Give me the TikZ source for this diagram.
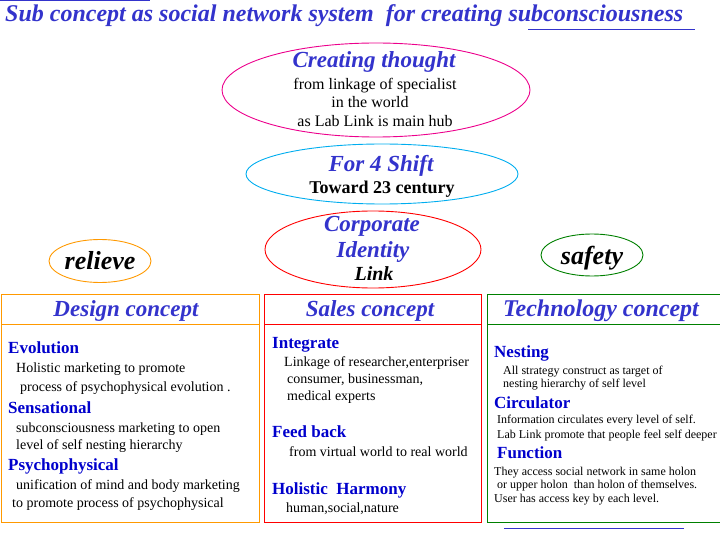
\documentclass[tikz,border=0pt]{standalone}
\usepackage{fontspec}
\setmainfont{Liberation Serif}
\usetikzlibrary{shapes.geometric}
\definecolor{titleblue}{RGB}{51,51,204}
\definecolor{headblue}{RGB}{0,0,204}
\definecolor{boxorange}{RGB}{255,153,0}
\definecolor{boxgreen}{RGB}{0,128,0}
\newcommand{\bigbi}{\fontsize{23}{26}\selectfont\bfseries\itshape}
\newcommand{\subhd}{\fontsize{17}{19}\selectfont\bfseries}
\tikzset{
	oval/.style={ellipse,draw,line width=0.9pt,inner sep=0pt},
	cbox/.style={rectangle,draw,line width=1.2pt,inner sep=0pt,anchor=north west},
	hd/.style={anchor=base,inner sep=0pt,text=titleblue,font=\bigbi},
	sub/.style={anchor=base west,inner sep=0pt,text=headblue,font=\subhd},
	ovtx/.style={anchor=base,inner sep=0pt,font=\fontsize{16}{18}\selectfont},
	ln/.style={anchor=base west,inner sep=0pt,font=\fontsize{14}{16}\selectfont},
	sm/.style={anchor=base west,inner sep=0pt,font=\fontsize{12}{14}\selectfont}
}
\begin{document}
\begin{tikzpicture}[x=1pt,y=-1pt]
			\useasboundingbox (0,0) rectangle (720,540);
			% title
			\node[anchor=base west,inner sep=0pt,text=titleblue,font=\fontsize{24}{28}\selectfont\bfseries\itshape]
				(title) at (5,22) {Sub concept as social network system\ \ for creating subconsciousness};
			\coordinate (tl1) at (0,1);
			\coordinate (tl2) at (150,1);
			\coordinate (ul1) at (528,30);
			\coordinate (ul2) at (695,30);
			\draw[titleblue,line width=1pt] (tl1) -- (tl2) (ul1) -- (ul2);
			%
			\node[oval,draw=magenta,minimum width=308,minimum height=94] (thought) at (376,90) {};
			\node[hd] (thoughthd) at (374,68) {Creating thought};
			\node[ovtx] (th1) at (375,90) {from linkage of specialist};
			\node[ovtx] (th2) at (370,108) {in the world};
			\node[ovtx] (th3) at (375,127) {as Lab Link is main hub};
			%
			\node[oval,draw=cyan,minimum width=272,minimum height=60] (shift) at (382,174) {};
			\node[hd] (shifthd) at (381,172) {For 4 Shift};
			\node[anchor=base,inner sep=0pt,font=\fontsize{18}{20}\selectfont\bfseries] (shift1) at (382,194) {Toward 23 century};
			%
			\node[oval,draw=red,minimum width=216,minimum height=77] (identity) at (373,249.5) {};
			\node[hd] (ident1) at (372,231) {Corporate};
			\node[hd] (ident2) at (373,257) {Identity};
			\node[anchor=base,inner sep=0pt,font=\fontsize{20}{22}\selectfont\bfseries\itshape] (ident3) at (374,280) {Link};
			%
			\node[oval,draw=boxorange,minimum width=102,minimum height=43] (relieve) at (100,261) {};
			\node[anchor=base,inner sep=0pt,font=\fontsize{26}{28}\selectfont\bfseries\itshape] (relievetx) at (100,269) {relieve};
			\node[oval,draw=boxgreen,minimum width=102,minimum height=42] (safety) at (592,255) {};
			\node[anchor=base,inner sep=0pt,font=\fontsize{26}{28}\selectfont\bfseries\itshape] (safetytx) at (592,264) {safety};
			%
			% design concept
			\node[cbox,draw=boxorange,minimum width=258,minimum height=30] (designhd) at (0.6,294) {};
			\node[cbox,draw=boxorange,minimum width=258,minimum height=198] (design) at (0.6,324) {};
			\node[hd] (designtx) at (126,316) {Design concept};
			\node[sub] (evo) at (8,353) {Evolution};
			\node[ln] (evo1) at (16,372) {Holistic marketing to promote};
			\node[ln] (evo2) at (20,391) {process of psychophysical evolution .};
			\node[sub] (sens) at (8,413) {Sensational};
			\node[ln] (sens1) at (16,432) {subconsciousness marketing to open};
			\node[ln] (sens2) at (16,449) {level of self nesting hierarchy};
			\node[sub] (psy) at (8,470) {Psychophysical};
			\node[ln] (psy1) at (16,489) {unification of mind and body marketing};
			\node[ln] (psy2) at (12,507) {to promote process of psychophysical};
			%
			% sales concept
			\node[cbox,draw=red,minimum width=217,minimum height=30] (saleshd) at (264,294) {};
			\node[cbox,draw=red,minimum width=217,minimum height=198] (sales) at (264,324) {};
			\node[hd] (salestx) at (370,316) {Sales concept};
			\node[sub] (integ) at (272,348) {Integrate};
			\node[ln] (integ1) at (284,366) {Linkage of researcher,enterpriser};
			\node[ln] (integ2) at (287,383) {consumer, businessman,};
			\node[ln] (integ3) at (287,400) {medical experts};
			\node[sub] (feed) at (272,437) {Feed back};
			\node[ln] (feed1) at (289,456) {from virtual world to real world};
			\node[sub] (harm) at (272,494) {Holistic\ \ Harmony};
			\node[ln] (harm1) at (286,512) {human,social,nature};
			%
			% technology concept
			\node[cbox,draw=boxgreen,minimum width=233,minimum height=30] (techhd) at (487,294) {};
			\node[cbox,draw=boxgreen,minimum width=233,minimum height=198] (tech) at (487,324) {};
			\node[hd,font=\fontsize{24}{26}\selectfont\bfseries\itshape] (techtx) at (601,316) {Technology concept};
			\node[sub] (nest) at (494,357) {Nesting};
			\node[sm] (nest1) at (503,374) {All strategy construct as target of};
			\node[sm] (nest2) at (503,387) {nesting hierarchy of self level};
			\node[sub] (circ) at (494,408) {Circulator};
			\node[sm] (circ1) at (497,423) {Information circulates every level of self.};
			\node[sm] (circ2) at (497,438) {Lab Link promote that people feel self deeper};
			\node[sub] (func) at (497,458) {Function};
			\node[sm] (func1) at (494,475) {They access social network in same holon};
			\node[sm] (func2) at (497,488) {or upper holon\ \ than holon of themselves.};
			\node[sm] (func3) at (494,502) {User has access key by each level.};
			\coordinate (bl1) at (504,528);
			\coordinate (bl2) at (684,528);
			\draw[titleblue,line width=1pt] (bl1) -- (bl2);
		\end{tikzpicture}
\end{document}
